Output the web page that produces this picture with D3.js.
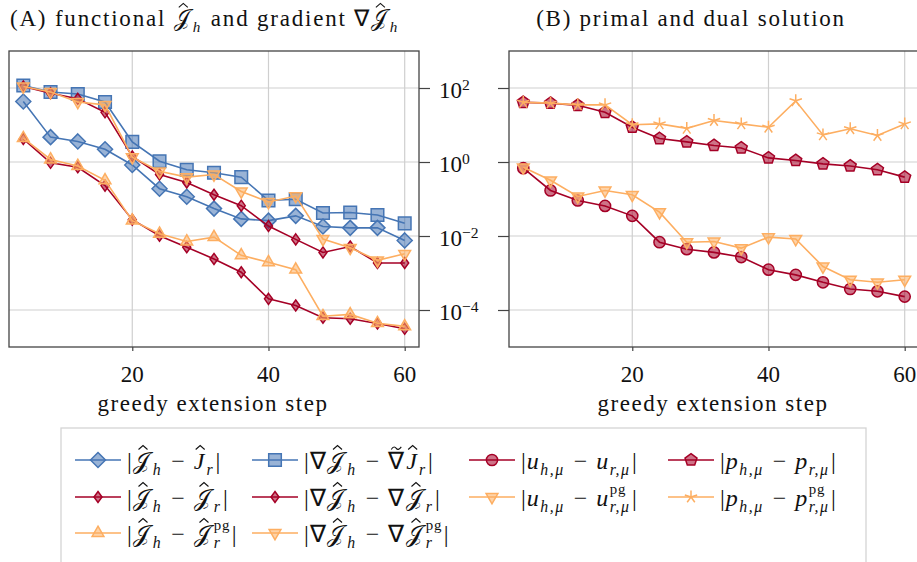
<!DOCTYPE html>
<html>
<head>
<meta charset="utf-8">
<script src="https://cdn.jsdelivr.net/npm/d3@7"></script>
<style>
  body { margin: 0; background: #fff; }
</style>
</head>
<body>
<svg id="chart" width="917" height="562"></svg>
<script>
// ---- data (greedy step vs. error) ----
const steps = [4, 8, 12, 16, 20, 24, 28, 32, 36, 40, 44, 48, 52, 56, 60];

// (A) functional errors
const funcErrTrue = [43, 4.7, 3.6, 2.2, 0.83, 0.19, 0.115, 0.055, 0.029, 0.026, 0.035, 0.018, 0.0166, 0.0166, 0.0076];
const funcErrRom  = [4.2, 0.95, 0.72, 0.23, 0.0275, 0.0102, 0.0050, 0.0024, 0.00105, 0.0002, 0.000132, 6.2e-5, 5.8e-5, 4.3e-5, 3.1e-5];
const funcErrPg   = [4.4, 1.17, 0.78, 0.32, 0.026, 0.0115, 0.0071, 0.0093, 0.0030, 0.00195, 0.00123, 6.8e-5, 7.6e-5, 4.4e-5, 3.6e-5];
// (A) gradient errors
const gradErrApprox = [117, 78, 69, 42, 3.5, 1.05, 0.62, 0.51, 0.39, 0.091, 0.098, 0.042, 0.043, 0.037, 0.022];
const gradErrRom    = [110, 72, 51, 22, 1.41, 0.46, 0.28, 0.13, 0.066, 0.0186, 0.0081, 0.0036, 0.0052, 0.00186, 0.00186];
const gradErrPg     = [110, 78, 42, 35, 1.35, 0.56, 0.39, 0.46, 0.16, 0.083, 0.12, 0.0083, 0.0048, 0.0022, 0.0033];
// (B) primal / dual errors
const primalErrRom = [0.68, 0.17, 0.091, 0.065, 0.035, 0.0068, 0.0044, 0.0036, 0.0027, 0.00123, 0.00089, 0.00056, 0.00037, 0.00032, 0.00023];
const primalErrPg  = [0.72, 0.32, 0.117, 0.17, 0.13, 0.044, 0.0068, 0.0071, 0.0047, 0.0093, 0.0083, 0.0015, 0.00066, 0.00056, 0.00066];
const dualErrRom   = [41, 39, 34, 22, 8.7, 4.3, 3.5, 2.8, 2.4, 1.29, 1.10, 0.89, 0.78, 0.62, 0.39];
const dualErrPg    = [41, 39, 35, 35, 10.2, 10.7, 8.1, 13.2, 10.7, 8.7, 45, 5.4, 7.9, 5.2, 10.7];

const xTicks = [20, 40, 60];
const yTickExps = [2, 0, -2, -4];
const titleA = "(A) functional";
const titleB = "(B) primal and dual solution";
const xLabel = "greedy extension step";

const BLUE = "#4575b4", RED = "#a50026", ORANGE = "#fdae61";
const FONT = "Liberation Serif, serif";

const svg = d3.select("#chart");

// ---- scales ----
const yTop = 51, yBot = 347;
const y = d3.scaleLog().domain([1e-5, 1e3]).range([yBot, yTop]);
const xA = d3.scaleLinear().domain([1.9, 62.1]).range([9, 419]);
const xB = d3.scaleLinear().domain([1.9, 62.1]).range([509, 919]);

// ---- marker shapes ----
function ngon(n, r, rot) {
  return d3.range(n).map(k => {
    const a = rot + k * 2 * Math.PI / n;
    return [r * Math.cos(a), r * Math.sin(a)];
  });
}
function poly(pts) { return "M" + pts.map(p => p.join(",")).join("L") + "Z"; }
function markerPath(kind) {
  switch (kind) {
    case "diamond": return poly([[0, -7.5], [7.5, 0], [0, 7.5], [-7.5, 0]]);
    case "thin":    return poly([[0, -5.5], [4, 0], [0, 5.5], [-4, 0]]);
    case "square":  return poly([[-6.3, -6.3], [6.3, -6.3], [6.3, 6.3], [-6.3, 6.3]]);
    case "triUp":   return poly(ngon(3, 6.8, -Math.PI / 2));
    case "triDown": return poly(ngon(3, 6.8, Math.PI / 2));
    case "pent":    return poly(ngon(5, 6.3, -Math.PI / 2));
    case "star":    return ngon(5, 6.5, -Math.PI / 2).map(p => "M0,0L" + p.join(",")).join("");
  }
}

const series = [
  { x: xA, vals: funcErrTrue,   color: BLUE,   mk: "diamond" },
  { x: xA, vals: funcErrRom,    color: RED,    mk: "thin" },
  { x: xA, vals: funcErrPg,     color: ORANGE, mk: "triUp" },
  { x: xA, vals: gradErrApprox, color: BLUE,   mk: "square" },
  { x: xA, vals: gradErrRom,    color: RED,    mk: "thin" },
  { x: xA, vals: gradErrPg,     color: ORANGE, mk: "triDown" },
  { x: xB, vals: primalErrRom,  color: RED,    mk: "circle" },
  { x: xB, vals: primalErrPg,   color: ORANGE, mk: "triDown" },
  { x: xB, vals: dualErrRom,    color: RED,    mk: "pent" },
  { x: xB, vals: dualErrPg,     color: ORANGE, mk: "star" }
];

function drawMarker(g, s, cx, cy) {
  if (s.mk === "circle") {
    g.append("circle").attr("cx", cx).attr("cy", cy).attr("r", 5.6)
      .attr("fill", s.color).attr("fill-opacity", 0.55)
      .attr("stroke", s.color).attr("stroke-width", 1.5);
  } else {
    g.append("path").attr("d", markerPath(s.mk))
      .attr("transform", `translate(${cx},${cy})`)
      .attr("fill", s.mk === "star" ? "none" : s.color).attr("fill-opacity", 0.55)
      .attr("stroke", s.color).attr("stroke-width", 1.5)
      .attr("stroke-linejoin", "miter");
  }
}

// spaces become no-break spaces so SVG keeps them
function txt(g, x, yy, s, size) {
  return g.append("text").attr("x", x).attr("y", yy)
    .attr("font-family", FONT).attr("font-size", size).attr("fill", "#111")
    .text(s.replace(/ /g, "\u00a0"));
}

// ---- grid + frames ----
[[xA, 9, 419], [xB, 509, 919]].forEach(([x, x0, x1]) => {
  const grid = svg.append("g").attr("stroke", "#cfcfcf").attr("stroke-width", 1.2);
  xTicks.forEach(t => grid.append("line").attr("x1", x(t)).attr("x2", x(t)).attr("y1", yTop).attr("y2", yBot));
  yTickExps.forEach(e => grid.append("line").attr("x1", x0).attr("x2", x1).attr("y1", y(10 ** e)).attr("y2", y(10 ** e)));

  const xAxis = svg.append("g").attr("transform", `translate(0,${yBot})`)
    .call(d3.axisBottom(x).tickValues(xTicks).tickSize(4).tickFormat(""));
  xAxis.select(".domain").remove();
  xAxis.selectAll("line").attr("stroke", "#444").attr("stroke-width", 1.2);
  xTicks.forEach(t => txt(svg, x(t), 382, String(t), 23).attr("text-anchor", "middle"));

  txt(svg, (x0 + x1) / 2 - 1, 411, xLabel, 23).attr("text-anchor", "middle").attr("letter-spacing", 1.5);

  svg.append("rect").attr("x", x0).attr("y", yTop).attr("width", x1 - x0).attr("height", yBot - yTop)
    .attr("fill", "none").attr("stroke", "#444").attr("stroke-width", 1.3);
});

// y tick marks: right side of panel A, left side of panel B
const yA = svg.append("g").attr("transform", "translate(419,0)")
  .call(d3.axisRight(y).tickValues(yTickExps.map(e => 10 ** e)).tickSize(11).tickFormat(""));
const yB = svg.append("g").attr("transform", "translate(509,0)")
  .call(d3.axisLeft(y).tickValues(yTickExps.map(e => 10 ** e)).tickSize(11).tickFormat(""));
[yA, yB].forEach(a => {
  a.select(".domain").remove();
  a.selectAll("line").attr("stroke", "#444").attr("stroke-width", 1.2);
});

// ---- small math typesetter ----
function drawHat(g, cx, top) {
  g.append("path").attr("d", `M${cx - 4.5},${top + 4}L${cx},${top}L${cx + 4.5},${top + 4}`)
    .attr("fill", "none").attr("stroke", "#111").attr("stroke-width", 1.1);
}
function drawTilde(g, cx, top) {
  g.append("path").attr("d", `M${cx - 5},${top + 2.5}C${cx - 3},${top - 1} ${cx - 1},${top} ${cx},${top + 1.5}S${cx + 3},${top + 3} ${cx + 5},${top}`)
    .attr("fill", "none").attr("stroke", "#111").attr("stroke-width", 1.1);
}
function mathLabel(g, x0, y0, parts, size) {
  let x = x0;
  parts.forEach(p => {
    if (p.sub !== undefined || p.sup !== undefined) {
      let w = 0;
      if (p.sub) {
        const t = txt(g, x, y0 + size * 0.24, p.sub, size * 0.66)
          .attr("font-style", "italic").attr("letter-spacing", 1.5);
        w = Math.max(w, t.node().getComputedTextLength());
      }
      if (p.sup) {
        const both = !!p.sub;
        const t = txt(g, x, y0 - size * (both ? 0.5 : 0.36), p.sup, size * (both ? 0.62 : 0.68))
          .attr("letter-spacing", both ? 0.8 : 0);
        w = Math.max(w, t.node().getComputedTextLength());
      }
      x += w + 1.5;
      return;
    }
    const t = txt(g, x, y0, p.t, size);
    if (p.i) t.attr("font-style", "italic");
    if (p.ls) t.attr("letter-spacing", p.ls);
    const w = t.node().getComputedTextLength();
    if (p.hat) drawHat(g, x + w * 0.6, y0 - size * 0.98);
    if (p.tilde) drawTilde(g, x + w * 0.5, y0 - size * 0.92);
    x += w + (p.gap || 0);
  });
  return x;
}

const bar = { t: "|", gap: 1 }, minus = { t: " \u2212 ", ls: 1.5 }, nabla = { t: "\u2207", gap: 1.5 };
const nablaT = { t: "\u2207", tilde: true, gap: 2 };
const JS = { t: "\ud835\udca5", hat: true, gap: 3 };     // script J with hat
const JI = { t: "J", i: true, hat: true, gap: 2 };        // italic J with hat
const S = (sub, sup) => ({ sub, sup });
const I = t => ({ t, i: true, gap: 1.5 });

// y tick labels between the two panels
yTickExps.forEach(e => {
  mathLabel(svg, 439, y(10 ** e) + 10, [{ t: "10" }, S(undefined, e < 0 ? "\u2212" + (-e) : String(e))], 23);
});

// ---- titles ----
const gT = svg.append("g");
mathLabel(gT, 10, 26, [{ t: titleA + " ", ls: 1.8 }, JS, S("h"), { t: " and gradient ", ls: 1.8 }, nabla, JS, S("h")], 23);
txt(svg, 691, 26, titleB, 23).attr("text-anchor", "middle").attr("letter-spacing", 1.75);

// ---- data lines and markers ----
series.forEach(s => {
  const g = svg.append("g");
  const line = d3.line().x((d, i) => s.x(steps[i])).y(d => y(d));
  g.append("path").datum(s.vals).attr("d", line)
    .attr("fill", "none").attr("stroke", s.color).attr("stroke-width", 1.6);
  s.vals.forEach((v, i) => drawMarker(g, s, s.x(steps[i]), y(v)));
});

// ---- legend ----
svg.append("rect").attr("x", 61).attr("y", 428).attr("width", 805).attr("height", 160)
  .attr("fill", "#fff").attr("stroke", "#d4d4d4").attr("stroke-width", 1.3);

const legendLabels = [
  [bar, JS, S("h"), minus, JI, S("r"), bar],
  [bar, JS, S("h"), minus, JS, S("r"), bar],
  [bar, JS, S("h"), minus, JS, S("r", "pg"), bar],
  [bar, nabla, JS, S("h"), minus, nablaT, JI, S("r"), bar],
  [bar, nabla, JS, S("h"), minus, nabla, JS, S("r"), bar],
  [bar, nabla, JS, S("h"), minus, nabla, JS, S("r", "pg"), bar],
  [bar, I("u"), S("h,\u03bc"), minus, I("u"), S("r,\u03bc"), bar],
  [bar, I("u"), S("h,\u03bc"), minus, I("u"), S("r,\u03bc", "pg"), bar],
  [bar, I("p"), S("h,\u03bc"), minus, I("p"), S("r,\u03bc"), bar],
  [bar, I("p"), S("h,\u03bc"), minus, I("p"), S("r,\u03bc", "pg"), bar]
];
const legendCols = [75, 252, 469, 668];
const legendRows = [460, 497, 533];
const legendSlots = [[0, 0], [0, 1], [0, 2], [1, 0], [1, 1], [1, 2], [2, 0], [2, 1], [3, 0], [3, 1]];

series.forEach((s, k) => {
  const [c, r] = legendSlots[k];
  const lx = legendCols[c], ly = legendRows[r];
  const g = svg.append("g");
  g.append("line").attr("x1", lx).attr("x2", lx + 46).attr("y1", ly).attr("y2", ly)
    .attr("stroke", s.color).attr("stroke-width", 1.6);
  drawMarker(g, s, lx + 23, ly);
  mathLabel(g, lx + 52, ly + 9, legendLabels[k], 24);
});
</script>
</body>
</html>
